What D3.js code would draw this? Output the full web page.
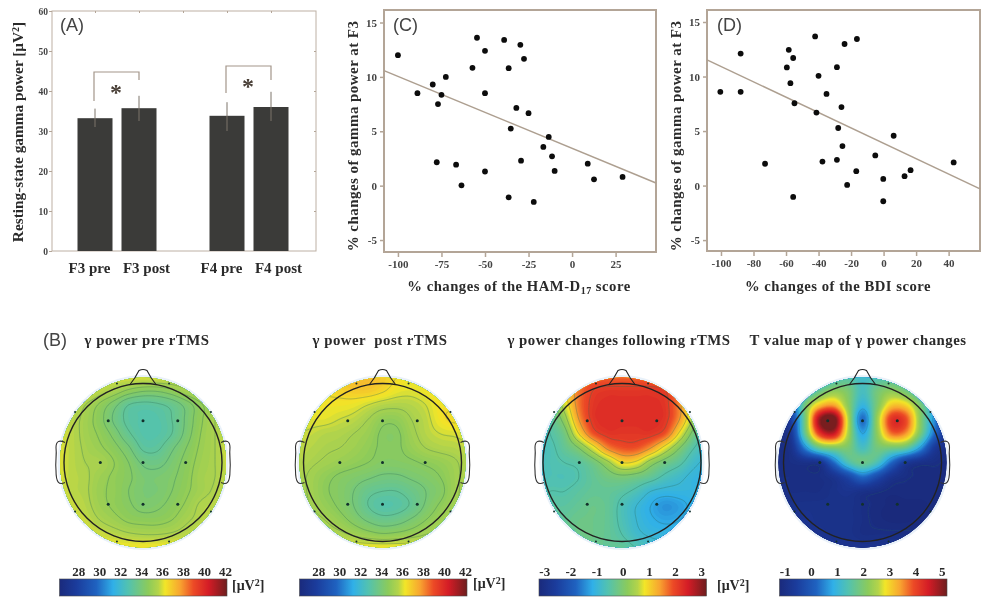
<!DOCTYPE html>
<html>
<head>
<meta charset="utf-8">
<script src="https://cdn.jsdelivr.net/npm/d3@7"></script>
<style>
  html, body { margin: 0; padding: 0; background: #fff; }
  svg { display: block; filter: blur(0.35px); }
  text { font-family: "Liberation Serif", serif; font-weight: bold; fill: #2a2a2a; white-space: pre; }
  .panel-label { font-family: "Liberation Sans", sans-serif; font-weight: normal; font-size: 18px; fill: #444; }
  .tick text { font-size: 11px; fill: #444; }
</style>
</head>
<body>
<div id="svg-div"></div>
<script>
// panel A
var barLabels = ["F3 pre", "F3 post", "F4 pre", "F4 post"]
var barPositions = [1, 2, 4, 5]
var barValues = [33.2, 35.7, 33.8, 36.0]
var barErrHigh = [35.6, 38.8, 37.2, 39.8]
var barErrLow = [31.0, 32.5, 30.0, 32.5]
var bracketTops = [44.75, 46.25]
var bracketLeftEnds = [37.5, 39.5]
var bracketRightEnds = [42.75, 42.75]

// panel C
var hamdChange = [-100, -88.8, -80, -75, -77, -72.5, -77.7, -66.6, -63.5, -57.2, -54.6, -50, -50, -50, -39, -36.4, -36.4, -35.2, -32, -29.7, -27.6, -29.3, -25, -22, -16.5, -13.4, -11.5, -10, 9, 12.6, 29]
var gammaChangeC = [12.0, 8.5, 9.3, 8.35, 7.5, 10.0, 2.15, 1.93, 0.03, 10.83, 13.6, 12.4, 8.5, 1.3, 13.4, 10.8, -1.07, 5.25, 7.15, 12.95, 11.66, 2.3, 6.66, -1.5, 3.56, 4.48, 2.7, 1.35, 2.02, 0.58, 0.8]
var hamdFitX = [-108, 48.2]
var hamdFitY = [10.58, 0.25]

// panel D
var bdiChange = [-100.4, -87.9, -87.9, -72.9, -59.5, -58.3, -55.6, -57.3, -54.8, -55.6, -42.1, -40, -41.3, -37.6, -35.1, -28.7, -27.9, -28.7, -25.9, -25.3, -24, -16.4, -22.4, -16.8, -5.1, -0.2, -0.2, 6.2, 12.9, 16.6, 43.1]
var gammaChangeD = [8.6, 12.1, 8.6, 2.0, 10.83, 12.45, 11.7, 9.39, 7.55, -1.04, 13.68, 10.06, 6.69, 2.2, 8.4, 10.86, 5.28, 2.36, 7.2, 3.62, 12.98, 13.44, 0.06, 1.32, 2.76, 0.61, -1.44, 4.57, 0.86, 1.41, 2.12]
var bdiFitX = [-108.6, 59.3]
var bdiFitY = [11.53, -0.3]

// panel B, field on a 13 x 13 raster, front of the head first
var mapPre = [
  [36.2,36.2,36.2,36.2,36.2,36.2,36.2,36.2,36.2,36.2,36.2,36.2,36.2],
  [36.2,36.2,36.2,35.8,35.4,34.9,34.6,34.6,34.9,35.4,35.8,36.2,36.2],
  [36.2,36,35.5,34.9,34.2,33.4,33.2,33.3,33.6,34.2,34.9,35.5,36.1],
  [36.2,35.8,35.3,34.7,33.9,33.2,33,33,33.4,34.1,34.9,35.5,36.1],
  [36.2,35.8,35.3,34.9,34.3,33.5,33,33,33.4,34.2,35,35.5,36.1],
  [36.2,35.8,35.4,35.1,34.7,34.1,33.3,33.3,33.9,34.5,35.1,35.5,36.1],
  [36.2,35.8,35.5,35.4,35,34.5,33.9,33.8,34.2,34.7,35.2,35.5,36],
  [36.2,35.8,35.6,35.2,34.9,34.6,34.2,34.2,34.4,34.8,35.3,35.5,36],
  [36.2,35.8,35.6,35.1,34.9,34.5,34.2,34.2,34.5,34.9,35.3,35.6,36],
  [36.2,36,35.7,35.2,34.9,34.6,34.3,34.4,34.7,35.1,35.6,35.8,36.1],
  [36.2,36.1,35.9,35.5,35.2,34.9,34.8,34.8,35,35.4,35.7,36,36.2],
  [36.3,36.3,36.2,36,35.8,35.6,35.5,35.5,35.6,35.8,36,36.2,36.3],
  [36.5,36.5,36.5,36.5,36.5,36.5,36.5,36.5,36.5,36.5,36.5,36.5,36.5]
]
var mapPost = [
  [36.8,36.8,36.8,37.1,37.4,37.4,37,36.6,36.4,36.4,36.3,36.3,36.3],
  [36.6,36.6,36.7,36.8,37,37,36.7,36.3,36.2,36.4,36.6,36.6,36.4],
  [36.4,36.4,36.4,36.4,36.3,36,35.7,35.6,35.7,36,36.5,36.5,36.4],
  [36.3,36.2,36.2,36,35.8,35.4,34.9,34.9,35.4,35.8,36.4,36.7,36.4],
  [36,35.9,35.7,35.6,35.4,35.1,34.6,34.6,35.2,35.7,36,36.1,36.2],
  [35.9,35.7,35.5,35.4,35.2,34.9,34.6,34.6,35,35.4,35.6,35.7,35.9],
  [35.7,35.5,35.3,35.1,34.9,34.7,34.5,34.5,34.6,34.8,35,35.3,35.7],
  [35.6,35.3,34.9,34.6,34.4,34.2,34,34,34.2,34.4,34.7,35.2,35.7],
  [35.6,35.3,34.8,34.5,34.1,33.6,33.4,33.4,33.7,34.1,34.5,35.2,35.7],
  [35.7,35.4,35,34.6,34.1,33.4,33,33.1,33.5,34.2,34.8,35.3,35.8],
  [35.9,35.7,35.4,35,34.5,34,33.7,33.8,34.2,34.7,35.2,35.6,36],
  [36.2,36.1,35.8,35.6,35.3,35,34.8,34.9,35.1,35.4,35.7,36,36.2],
  [36.5,36.5,36.5,36.5,36.5,36.5,36.5,36.5,36.5,36.5,36.5,36.5,36.5]
]
var mapChange = [
  [1,1.2,1.5,1.7,1.8,1.8,1.8,1.8,1.8,1.7,1.4,1,0.8],
  [0.3,0.7,1.1,1.7,2.1,2.2,2.2,2.2,2.2,2.1,1.6,1,0.5],
  [-0.4,-0.1,0.7,1.7,2.2,2.3,2.3,2.3,2.3,2.2,1.6,0.7,0],
  [-0.7,-0.4,0.3,1.5,2.2,2.3,2.3,2.3,2.3,2.2,1.5,0.4,-0.4],
  [-0.8,-0.5,-0.1,1,1.9,2.2,2.2,2.2,2.2,1.9,0.9,-0.1,-0.7],
  [-0.8,-0.6,-0.3,0.1,0.8,1.6,1.9,1.9,1.5,0.8,0.1,-0.5,-0.8],
  [-0.8,-0.6,-0.5,-0.4,-0.1,0.4,1,0.9,0.3,-0.1,-0.4,-0.8,-1],
  [-0.7,-0.6,-0.6,-0.5,-0.3,-0.1,0,-0.1,-0.3,-0.6,-0.8,-1,-1],
  [-0.6,-0.5,-0.5,-0.4,-0.3,-0.3,-0.4,-0.6,-0.9,-1,-1,-1,-0.9],
  [-0.5,-0.4,-0.4,-0.3,-0.2,-0.3,-0.6,-0.9,-1.15,-1.35,-1.25,-1.05,-0.9],
  [-0.3,-0.3,-0.3,-0.2,-0.2,-0.3,-0.6,-0.9,-1.1,-1.2,-1.15,-1,-0.9],
  [-0.2,-0.2,-0.2,-0.2,-0.2,-0.3,-0.5,-0.8,-0.95,-1,-1,-0.95,-0.9],
  [-0.2,-0.2,-0.2,-0.2,-0.2,-0.3,-0.3,-0.5,-0.7,-0.8,-0.9,-0.9,-0.9]
]
var mapT = [
  [0.2,0.4,0.6,0.8,1.3,1.5,1.2,1.4,1.5,1.3,0.8,0.4,0.2],
  [-0.4,0.2,0.9,1.7,2.2,2,1.3,1.9,2.2,1.9,1.2,0.4,-0.2],
  [-0.9,-0.2,1.9,3.1,3.4,2.2,1,2,3.1,3,2,0.8,-0.5],
  [-1,-0.5,1.9,4.9,5.4,2.6,0.3,2.3,4.2,4,2.2,0.6,-0.7],
  [-1,-0.7,1.7,4.1,4.6,2.5,0.8,2.2,3.7,3.5,2,0.3,-0.9],
  [-1,-0.9,0.5,1.7,2,2,1.3,1.9,1.9,1.7,0.7,-0.6,-1],
  [-1,-1,-0.9,-0.8,0.3,1.4,1.8,1.4,0.3,-0.6,-0.9,-1,-1.1],
  [-1,-1,-1,-1,-0.8,-0.3,0.3,-0.2,-0.8,-1,-1.1,-1.1,-1.1],
  [-0.9,-1,-1,-1,-0.9,-0.8,-0.9,-1,-1.1,-1.1,-1.1,-1.1,-1],
  [-0.8,-0.9,-0.9,-0.9,-0.9,-0.9,-1,-1.1,-1.15,-1.15,-1.15,-1.1,-1],
  [-0.8,-0.8,-0.8,-0.9,-0.9,-0.9,-1,-1.1,-1.15,-1.15,-1.1,-1,-0.9],
  [-0.7,-0.7,-0.8,-0.8,-0.9,-0.9,-1,-1,-1,-1,-1,-0.9,-0.8],
  [-0.7,-0.7,-0.7,-0.7,-0.8,-0.8,-0.8,-0.8,-0.8,-0.8,-0.8,-0.8,-0.7]
]
var mapTitles = ["\u03b3 power pre rTMS", "\u03b3 power  post rTMS", "\u03b3 power changes following rTMS", "T value map of \u03b3 power changes"]
var mapCenters = [143, 382.5, 622, 862.5]
var mapTitleX = [147, 380, 619, 858]
var mapClipRx = [83, 83, 80, 84]
var mapLines = [
  [33.4, 34, 34.5, 35, 35.5],
  [33.4, 34.1, 34.7, 35.4, 36, 36.6],
  [-1.15, -0.9, -0.5, 0.1, 0.5, 1, 1.5, 2.1],
  [-1.05, 0.8]
]
var barDomains = [[26.2, 42.2], [26.2, 42.2], [-3.2, 3.2], [-1.2, 5.2]]
var barTicks = [[28, 30, 32, 34, 36, 38, 40, 42], [28, 30, 32, 34, 36, 38, 40, 42], [-3, -2, -1, 0, 1, 2, 3], [-1, 0, 1, 2, 3, 4, 5]]
var barLeft = [59.5, 299.5, 539, 779.5]

// electrodes, as a fraction of the head radius
var electrodeX = [-0.44, 0, 0.44, -0.54, 0, 0.54, -0.44, 0, 0.44, -0.86, 0.86, -0.86, 0.86, -0.33, 0.33, -0.33, 0.33]
var electrodeY = [-0.53, -0.53, -0.53, 0, 0, 0, 0.53, 0.53, 0.53, -0.64, -0.64, 0.62, 0.62, -1, -1, 1, 1]

var colorStops = [0, 0.1, 0.22, 0.32, 0.41, 0.53, 0.59, 0.63, 0.72, 0.8, 0.89, 1]
var colorValues = ["#1a2a7c", "#1b3c9c", "#1f62c0", "#30b0e8", "#52c2b0", "#8ccb5a", "#b4d44a", "#f2e628", "#f8a430", "#ec4a26", "#d41c26", "#6e1e1e"]

var svg = d3.select("#svg-div").append("svg").attr("width", 981).attr("height", 601)

var frameColor = "#b3a597"
var plain = function (d) { return d }

function styleAxis(g, size) {
  g.selectAll(".domain").remove()
  g.selectAll(".tick line").attr("stroke", frameColor).attr("stroke-width", size)
}

function drawBars() {
  var x = d3.scaleLinear().domain([0, 6]).range([51, 315])
  var y = d3.scaleLinear().domain([0, 60]).range([251, 11])
  var bw = 35

  svg.append("rect").attr("x", 52).attr("y", 11).attr("width", 264).attr("height", 240)
    .attr("fill", "none").attr("stroke", "#bdb0a4").attr("stroke-width", 1)

  svg.append("g").attr("transform", "translate(52,0)")
    .call(d3.axisLeft(y).tickValues([0, 10, 20, 30, 40, 50, 60]).tickSize(3))
    .call(styleAxis, 1)
    .selectAll("text").style("font-size", "9.5px").attr("dx", 2)
  svg.append("g").attr("transform", "translate(316,0)")
    .call(d3.axisRight(y).tickValues([10, 20, 30, 40, 50]).tickSize(-2).tickFormat(""))
    .call(styleAxis, 1)
  svg.append("g").attr("transform", "translate(0,11)")
    .call(d3.axisTop(x).tickValues([1, 2, 3, 4, 5]).tickSize(-2).tickFormat(""))
    .call(styleAxis, 1)

  svg.selectAll(".bar").data(barValues).enter().append("rect").attr("class", "bar")
    .attr("x", function (d, i) { return x(barPositions[i]) - bw / 2 })
    .attr("y", function (d) { return y(d) })
    .attr("width", bw)
    .attr("height", function (d) { return y(0) - y(d) })
    .attr("fill", "#3b3b39")

  svg.selectAll(".err").data(barValues).enter().append("line").attr("class", "err")
    .attr("x1", function (d, i) { return x(barPositions[i]) })
    .attr("x2", function (d, i) { return x(barPositions[i]) })
    .attr("y1", function (d, i) { return y(barErrHigh[i]) })
    .attr("y2", function (d, i) { return y(barErrLow[i]) })
    .attr("stroke", "#7d746b").attr("stroke-width", 1)

  var pairs = [[1, 2], [4, 5]]
  pairs.forEach(function (p, i) {
    var path = d3.path()
    path.moveTo(x(p[0]) - 1, y(bracketLeftEnds[i]))
    path.lineTo(x(p[0]) - 1, y(bracketTops[i]))
    path.lineTo(x(p[1]), y(bracketTops[i]))
    path.lineTo(x(p[1]), y(bracketRightEnds[i]))
    svg.append("path").attr("d", path.toString()).attr("fill", "none")
      .attr("stroke", "#a3968a").attr("stroke-width", 1.2)
    svg.append("text").attr("x", (x(p[0]) + x(p[1])) / 2 - 1).attr("y", y(bracketTops[i]) + 28)
      .attr("text-anchor", "middle").style("font-size", "24px").style("fill", "#4a4038").text("*")
  })

  barLabels.forEach(function (d, i) {
    svg.append("text").attr("x", x(barPositions[i]) - 5.5 + (i % 2) * 13).attr("y", 273)
      .attr("text-anchor", "middle").style("font-size", "15px").text(d)
  })

  svg.append("text").attr("transform", "translate(23,132) rotate(-90)").attr("text-anchor", "middle")
    .style("font-size", "15.3px").html("Resting-state gamma power [\u03bcV<tspan dy='-4' font-size='10'>2</tspan><tspan dy='4'>]</tspan>")
  svg.append("text").attr("class", "panel-label").attr("x", 60).attr("y", 31).text("(A)")
}

function drawScatter(o) {
  var x = d3.scaleLinear().domain(o.xDomain).range([o.left, o.right])
  var y = d3.scaleLinear().domain(o.yDomain).range([o.bottom, o.top])

  svg.append("g").attr("transform", "translate(0," + o.bottom + ")")
    .call(d3.axisBottom(x).tickValues(o.xTicks).tickSize(5).tickPadding(3).tickFormat(plain))
    .call(styleAxis, 1.5)
  svg.append("g").attr("transform", "translate(" + o.left + ",0)")
    .call(d3.axisLeft(y).tickValues([-5, 0, 5, 10, 15]).tickSize(4).tickFormat(plain))
    .call(styleAxis, 1.5)
  svg.append("rect").attr("x", o.left).attr("y", o.top).attr("width", o.right - o.left).attr("height", o.bottom - o.top)
    .attr("fill", "none").attr("stroke", frameColor).attr("stroke-width", 2)

  svg.append("line")
    .attr("x1", x(o.fitX[0])).attr("y1", y(o.fitY[0]))
    .attr("x2", x(o.fitX[1])).attr("y2", y(o.fitY[1]))
    .attr("stroke", "#ad9f90").attr("stroke-width", 1.5)

  svg.append("g").selectAll("circle").data(o.xs).enter().append("circle")
    .attr("cx", function (d) { return x(d) })
    .attr("cy", function (d, i) { return y(o.ys[i]) })
    .attr("r", 2.9).attr("fill", "#0c0c0c")

  svg.append("text").attr("transform", "translate(" + o.titleYX + ",136) rotate(-90)").attr("text-anchor", "middle")
    .style("font-size", "15px").style("letter-spacing", "0.45px").text("% changes of gamma power at F3")
  var t = svg.append("text").attr("x", o.titleX).attr("y", 291).attr("text-anchor", "middle")
    .style("font-size", "14.7px").style("letter-spacing", "0.5px")
  t.html(o.xTitle)
  svg.append("text").attr("class", "panel-label").attr("x", o.labelX).attr("y", 31).text(o.label)
}

// smooth the 13 x 13 raster so the bands come out round
function upsample(grid, f) {
  var n = grid.length, size = (n - 1) * f + 1, out = new Array(size * size)
  function at(r, c) {
    return grid[Math.max(0, Math.min(n - 1, r))][Math.max(0, Math.min(n - 1, c))]
  }
  function cr(a, b, c, d, t) {
    return 0.5 * (2 * b + (c - a) * t + (2 * a - 5 * b + 4 * c - d) * t * t + (3 * b - a - 3 * c + d) * t * t * t)
  }
  for (var r = 0; r < size; r++) {
    var r0 = Math.floor(r / f), tr = r / f - r0
    for (var c = 0; c < size; c++) {
      var c0 = Math.floor(c / f), tc = c / f - c0, col = []
      for (var k = -1; k <= 2; k++) {
        col.push(cr(at(r0 + k, c0 - 1), at(r0 + k, c0), at(r0 + k, c0 + 1), at(r0 + k, c0 + 2), tc))
      }
      out[r * size + c] = cr(col[0], col[1], col[2], col[3], tr)
    }
  }
  return { values: out, size: size }
}

function drawMap(grid, i) {
  var cx = mapCenters[i], cy = 462.5, headR = 79
  var f = 8, cell = 14.4 / f
  var up = upsample(grid, f)
  var dom = barDomains[i]
  var color = d3.scaleLinear()
    .domain(colorStops.map(function (s) { return dom[0] + s * (dom[1] - dom[0]) }))
    .range(colorValues)

  var g = svg.append("g")

  g.append("ellipse").attr("cx", cx).attr("cy", cy).attr("rx", mapClipRx[i] + 2.5).attr("ry", 87.5)
    .attr("fill", "#e4eef7").attr("opacity", 0.8)

  svg.append("clipPath").attr("id", "clip" + i).append("ellipse")
    .attr("cx", cx).attr("cy", cy).attr("rx", mapClipRx[i]).attr("ry", 85)

  var half = (up.size - 1) * cell / 2
  var path = d3.geoPath(d3.geoIdentity().scale(cell).translate([cx - half - cell / 2, cy - half - cell / 2]))
  var thresholds = d3.range(dom[0], dom[1], (dom[1] - dom[0]) / 96)
  var bands = d3.contours().size([up.size, up.size]).thresholds(thresholds)(up.values)

  var layer = g.append("g").attr("clip-path", "url(#clip" + i + ")")
  layer.append("rect").attr("x", cx - 90).attr("y", cy - 90).attr("width", 180).attr("height", 180)
    .attr("fill", color(d3.min(up.values)))
  layer.selectAll(".band").data(bands.filter(function (b) { return b.coordinates.length > 0 }))
    .enter().append("path").attr("class", "band")
    .attr("d", path)
    .attr("fill", function (d) { return color(d.value) })

  var lines = d3.contours().size([up.size, up.size]).thresholds(mapLines[i])(up.values)
  layer.selectAll(".iso").data(lines).enter().append("path").attr("class", "iso")
    .attr("d", path).attr("fill", "none")
    .attr("stroke", "#2a6b58").attr("stroke-opacity", i == 3 ? 0.3 : 0.45).attr("stroke-width", 0.7)

  // head outline
  var head = g.append("g").attr("fill", "none").attr("stroke", "#222").attr("stroke-width", 1.4)
  head.append("circle").attr("cx", cx).attr("cy", cy).attr("r", headR)
  var nose = d3.path()
  nose.moveTo(cx - 13, cy - 78)
  nose.quadraticCurveTo(cx - 8, cy - 84, cx - 4, cy - 92)
  nose.quadraticCurveTo(cx, cy - 94, cx + 4, cy - 92)
  nose.quadraticCurveTo(cx + 8, cy - 84, cx + 13, cy - 78)
  head.append("path").attr("d", nose.toString()).attr("stroke-width", 1.1)
  ;[-1, 1].forEach(function (side) {
    var ear = d3.path()
    ear.moveTo(cx + side * 78, cy - 20)
    ear.bezierCurveTo(cx + side * 84, cy - 23, cx + side * 87, cy - 21, cx + side * 87, cy - 15)
    ear.bezierCurveTo(cx + side * 86, cy - 6, cx + side * 88, cy - 2, cx + side * 87, cy + 8)
    ear.bezierCurveTo(cx + side * 87, cy + 20, cx + side * 84, cy + 23, cx + side * 78, cy + 20)
    head.append("path").attr("d", ear.toString()).attr("stroke-width", 1.1).attr("stroke", "#333")
  })

  g.selectAll(".el").data(electrodeX).enter().append("circle").attr("class", "el")
    .attr("cx", function (d) { return cx + d * headR })
    .attr("cy", function (d, k) { return cy + electrodeY[k] * headR })
    .attr("r", function (d, k) { return k < 9 ? 1.5 : 1 })
    .attr("fill", "#12302c")

  svg.append("text").attr("x", mapTitleX[i]).attr("y", 345).attr("text-anchor", "middle")
    .style("font-size", "14.8px").style("letter-spacing", "0.5px").text(mapTitles[i])

  // colour bar
  var left = barLeft[i], w = 167.5
  var barScale = d3.scaleLinear().domain(dom).range([left, left + w])
  var gradId = "grad" + i
  var grad = svg.append("linearGradient").attr("id", gradId)
  colorStops.forEach(function (s, k) {
    grad.append("stop").attr("offset", s).attr("stop-color", colorValues[k])
  })
  svg.append("rect").attr("x", left).attr("y", 579).attr("width", w).attr("height", 17)
    .attr("fill", "url(#" + gradId + ")").attr("stroke", "#4a4a4a").attr("stroke-width", 0.6)
  var ax = svg.append("g").attr("transform", "translate(0,579)")
    .call(d3.axisTop(barScale).tickValues(barTicks[i]).tickSize(0).tickPadding(3).tickFormat(plain))
  ax.select(".domain").remove()
  ax.selectAll("text").style("font-size", "13px").style("fill", "#2a2a2a")

  if (i < 3) {
    var ux = [232, 473, 717][i]
    svg.append("text").attr("x", ux).attr("y", 590 - (i == 1 ? 2 : 0)).style("font-size", "14px")
      .html("[\u03bcV<tspan dy='-4' font-size='10'>2</tspan><tspan dy='4'>]</tspan>")
  }
}

drawBars()
drawScatter({
  xs: hamdChange, ys: gammaChangeC, fitX: hamdFitX, fitY: hamdFitY,
  xDomain: [-108, 48.2], yDomain: [-6.1, 16.15], left: 384, right: 656, top: 10, bottom: 252,
  xTicks: [-100, -75, -50, -25, 0, 25], titleYX: 358, titleX: 519,
  xTitle: "% changes of the HAM-D<tspan dy='3' font-size='10'>17</tspan><tspan dy='-3'> score</tspan>",
  label: "(C)", labelX: 393
})
drawScatter({
  xs: bdiChange, ys: gammaChangeD, fitX: bdiFitX, fitY: bdiFitY,
  xDomain: [-108.6, 59.3], yDomain: [-6, 16.1], left: 707, right: 980, top: 10, bottom: 251,
  xTicks: [-100, -80, -60, -40, -20, 0, 20, 40], titleYX: 681, titleX: 838,
  xTitle: "% changes of the BDI score",
  label: "(D)", labelX: 717
})
;[mapPre, mapPost, mapChange, mapT].forEach(drawMap)
svg.append("text").attr("class", "panel-label").attr("x", 43).attr("y", 346).text("(B)")
</script>
</body>
</html>
